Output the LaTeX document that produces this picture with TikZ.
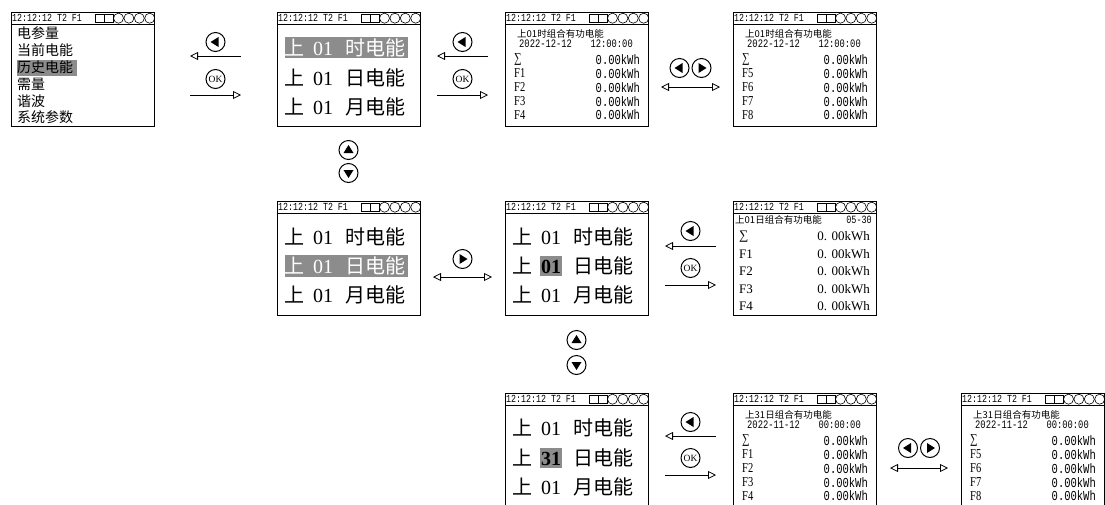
\documentclass[tikz,border=0pt]{standalone}
\usepackage{fontspec}
\setmainfont{Liberation Serif}
\newfontfamily\cjk{Noto Sans CJK SC}
\newfontfamily\lcdmono{Liberation Mono}
\usetikzlibrary{arrows.meta}
\definecolor{hl}{HTML}{8C8C8C}
\newcommand\fs[1]{\fontsize{#1}{#1}\selectfont}
\newcommand\tall[1]{\scalebox{1}[1.3]{#1}}
\tikzset{
  scr/.style={draw, line width=0.9pt, inner sep=0pt, anchor=north west, minimum width=143pt, minimum height=114pt},
  txt/.style={inner sep=0pt, anchor=west},
  btn/.style={circle, draw, line width=1pt, minimum size=19pt, inner sep=0pt},
  bl/.style={btn, path picture={\fill ([xshift=-5pt]path picture bounding box.center) -- ++(8pt,5pt) -- ++(0pt,-10pt) -- cycle;}},
  br/.style={btn, path picture={\fill ([xshift=5pt]path picture bounding box.center) -- ++(-8pt,5pt) -- ++(0pt,-10pt) -- cycle;}},
  bu/.style={btn, path picture={\fill ([yshift=5pt]path picture bounding box.center) -- ++(5pt,-8pt) -- ++(-10pt,0pt) -- cycle;}},
  bd/.style={btn, path picture={\fill ([yshift=-5pt]path picture bounding box.center) -- ++(5pt,8pt) -- ++(-10pt,0pt) -- cycle;}},
  bok/.style={btn, font=\fs{9.5}},
  ar/.style={line width=0.8pt, -{Triangle[open, length=8pt, width=8pt]}},
  dar/.style={line width=0.8pt, {Triangle[open, length=8pt, width=8pt]}-{Triangle[open, length=8pt, width=8pt]}},
}
\newcommand\frameat[1]{%
  \node[scr] (#1) at (0,0) {};
  \draw[line width=0.6pt] ([yshift=-12pt]#1.north west) -- ([yshift=-12pt]#1.north east);
  \node[txt, font=\lcdmono\fs{8.3}] (#1-t) at ([xshift=1pt,yshift=-6.2pt]#1.north west) {\tall{12:12:12 T2 F1}};
  \foreach \k in {0,1,2,3} \draw[line width=0.6pt] ([xshift={-5.2pt-\k*10.4pt},yshift=-6.2pt]#1.north east) circle[radius=5pt];
  \draw[line width=0.9pt] ([xshift=-59pt,yshift=-2pt]#1.north east) rectangle ([xshift=-50pt,yshift=-10.4pt]#1.north east);
  \draw[line width=0.9pt] ([xshift=-50pt,yshift=-2pt]#1.north east) rectangle ([xshift=-41pt,yshift=-10.4pt]#1.north east);
}
\newcommand\rowtxt[2]{{\cjk 上}\hspace{9pt}#1\hspace{12pt}{\cjk #2}}
\newcommand\detail[5]{%
  \node[txt, font=\cjk\fs{9.5}] (#1-h) at (12,21.5) {#2};
  \node[txt, font=\lcdmono\fs{8.8}] (#1-d) at (14,31.5) {\tall{#3}};
  \node[txt, anchor=east, font=\lcdmono\fs{8.8}] (#1-c) at (128,31.5) {\tall{#4}};
  \foreach \lab [count=\i from 0] in {#5} {
    \node[txt, font=\fs{10.5}] (#1-l\i) at (9,{47.5+13.9*\i}) {\tall{\lab}};
    \node[txt, anchor=east, font=\lcdmono\fs{10.5}] (#1-v\i) at (135,{47.5+13.9*\i}) {\tall{0.00kWh}};
  }}
\begin{document}
\begin{tikzpicture}[x=1pt,y=-1pt]
\useasboundingbox (0,0) rectangle (1105,504);
\fill[white] (0,0) rectangle (1105,504);
\clip (0,0) rectangle (1105,504);

% Screen A: menu
\begin{scope}[shift={(11,12)}]
  \frameat{A}
  \fill[hl] (6,48) rectangle (66,63.5);
  \foreach \t [count=\i from 0] in {电参量,当前电能,历史电能,需量,谐波,系统参数}
    \node[txt, font=\cjk\fs{14}] (A-\i) at (6,{21.5+16.8*\i}) {\t};
\end{scope}

% Screen B
\begin{scope}[shift={(277,12)}]
  \frameat{B}
  \fill[hl] (8,25) rectangle (131,46);
  \node[txt, text=white, font=\fs{20}] (B-1) at (7,36) {\rowtxt{01}{时电能}};
  \node[txt, font=\fs{20}] (B-2) at (7,66) {\rowtxt{01}{日电能}};
  \node[txt, font=\fs{20}] (B-3) at (7,95) {\rowtxt{01}{月电能}};
\end{scope}

% Screen C
\begin{scope}[shift={(505,12)}]
  \frameat{C}
  \detail{C}{上01时组合有功电能}{2022-12-12}{12:00:00}{∑,F1,F2,F3,F4}
\end{scope}

% Screen D
\begin{scope}[shift={(733,12)}]
  \frameat{D}
  \detail{D}{上01时组合有功电能}{2022-12-12}{12:00:00}{∑,F5,F6,F7,F8}
\end{scope}

% Screen E
\begin{scope}[shift={(277,201)}]
  \frameat{E}
  \fill[hl] (8,54) rectangle (131,76);
  \node[txt, font=\fs{20}] (E-1) at (7,36) {\rowtxt{01}{时电能}};
  \node[txt, text=white, font=\fs{20}] (E-2) at (7,65) {\rowtxt{01}{日电能}};
  \node[txt, font=\fs{20}] (E-3) at (7,94) {\rowtxt{01}{月电能}};
\end{scope}

% Screen F
\begin{scope}[shift={(505,201)}]
  \frameat{F}
  \fill[hl] (35,55) rectangle (57,75);
  \node[txt, font=\fs{20}] (F-1) at (7,36) {\rowtxt{01}{时电能}};
  \node[txt, font=\fs{20}] (F-2) at (7,65) {\rowtxt{\textbf{01}}{日电能}};
  \node[txt, font=\fs{20}] (F-3) at (7,94) {\rowtxt{01}{月电能}};
\end{scope}

% Screen G
\begin{scope}[shift={(733,201)}]
  \frameat{G}
  \node[txt, font=\cjk\fs{9.5}] (G-h) at (2,18.5) {上01日组合有功电能};
  \node[txt, anchor=east, font=\lcdmono\fs{8.5}] (G-d) at (139,18.5) {\tall{05-30}};
  \foreach \lab [count=\i from 0] in {∑,F1,F2,F3,F4} {
    \node[txt, font=\fs{13}] (G-l\i) at (6,{35.5+17.5*\i}) {\lab};
    \node[txt, anchor=east, font=\fs{13}] (G-v\i) at (137,{35.5+17.5*\i}) {0. 00kWh};
  }
\end{scope}

% Screen H
\begin{scope}[shift={(505,393)}]
  \frameat{H}
  \fill[hl] (35,55) rectangle (57,75);
  \node[txt, font=\fs{20}] (H-1) at (7,35) {\rowtxt{01}{时电能}};
  \node[txt, font=\fs{20}] (H-2) at (7,65) {\rowtxt{\textbf{31}}{日电能}};
  \node[txt, font=\fs{20}] (H-3) at (7,94) {\rowtxt{01}{月电能}};
\end{scope}

% Screen I
\begin{scope}[shift={(733,393)}]
  \frameat{I}
  \detail{I}{上31日组合有功电能}{2022-11-12}{00:00:00}{∑,F1,F2,F3,F4}
\end{scope}

% Screen J
\begin{scope}[shift={(961,393)}]
  \frameat{J}
  \detail{J}{上31日组合有功电能}{2022-11-12}{00:00:00}{∑,F5,F6,F7,F8}
\end{scope}

% ---- buttons and arrows ----
% A <-> B
\node[bl] (ab1) at (215.5,42) {};
\node[bok] (ab2) at (215.5,79) {OK};
\coordinate (ab3) at (241,56); \coordinate (ab4) at (190,56);
\coordinate (ab5) at (190,95); \coordinate (ab6) at (241,95);
\draw[ar] (ab3) -- (ab4);
\draw[ar] (ab5) -- (ab6);
% B <-> C
\node[bl] (bc1) at (462.5,42) {};
\node[bok] (bc2) at (462.5,79) {OK};
\coordinate (bc3) at (488,56); \coordinate (bc4) at (437,56);
\coordinate (bc5) at (437,95); \coordinate (bc6) at (488,95);
\draw[ar] (bc3) -- (bc4);
\draw[ar] (bc5) -- (bc6);
% C <-> D
\node[bl] (cd1) at (679.5,68) {};
\node[br] (cd2) at (701.5,68) {};
\coordinate (cd3) at (661,87); \coordinate (cd4) at (720,87);
\draw[dar] (cd3) -- (cd4);
% B -> E
\node[bu] (be1) at (348.5,150) {};
\node[bd] (be2) at (348.5,173) {};
% E <-> F
\node[br] (ef1) at (462.5,259) {};
\coordinate (ef2) at (433,277); \coordinate (ef3) at (492,277);
\draw[dar] (ef2) -- (ef3);
% F <-> G
\node[bl] (fg1) at (690.5,231) {};
\node[bok] (fg2) at (690.5,268) {OK};
\coordinate (fg3) at (716,246); \coordinate (fg4) at (665,246);
\coordinate (fg5) at (665,285); \coordinate (fg6) at (716,285);
\draw[ar] (fg3) -- (fg4);
\draw[ar] (fg5) -- (fg6);
% F -> H
\node[bu] (fh1) at (576.5,340) {};
\node[bd] (fh2) at (576.5,365) {};
% H <-> I
\node[bl] (hi1) at (690.5,422) {};
\node[bok] (hi2) at (690.5,458) {OK};
\coordinate (hi3) at (716,436); \coordinate (hi4) at (665,436);
\coordinate (hi5) at (665,475); \coordinate (hi6) at (716,475);
\draw[ar] (hi3) -- (hi4);
\draw[ar] (hi5) -- (hi6);
% I <-> J
\node[bl] (ij1) at (908,448) {};
\node[br] (ij2) at (930,448) {};
\coordinate (ij3) at (890,468); \coordinate (ij4) at (948,468);
\draw[dar] (ij3) -- (ij4);
\end{tikzpicture}
\end{document}
